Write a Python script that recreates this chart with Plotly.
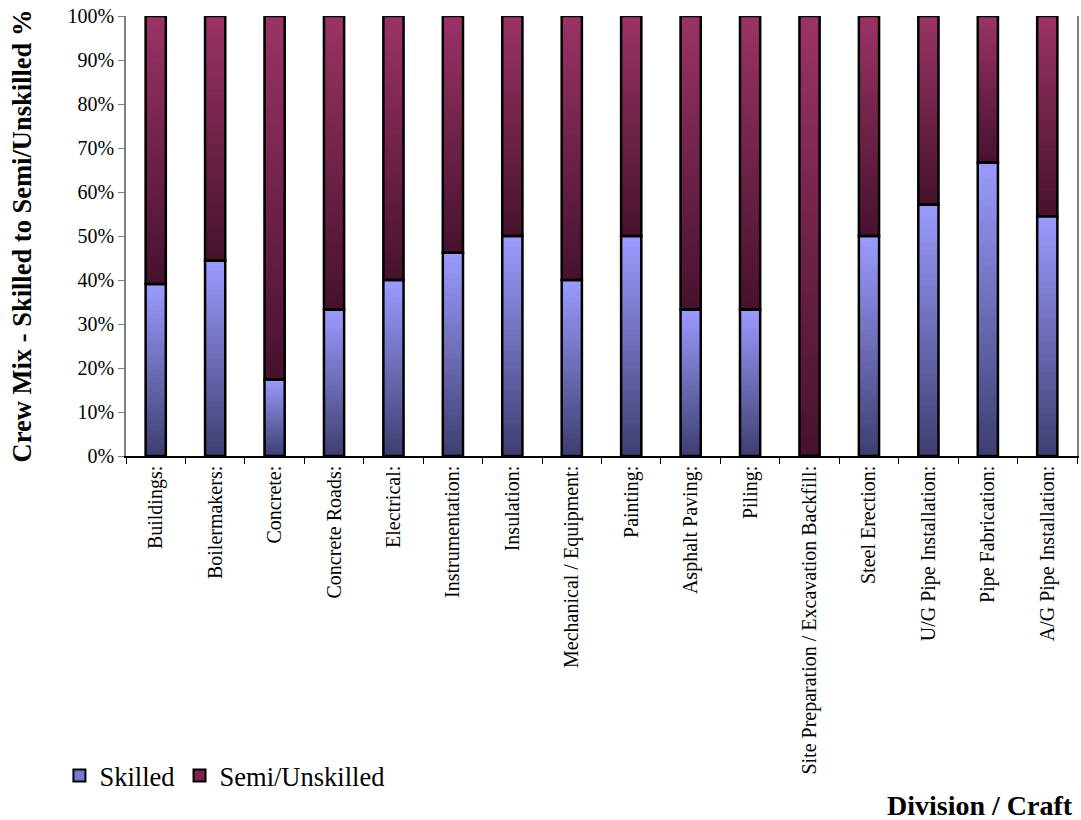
import plotly.graph_objects as go

categories = ["Buildings:", "Boilermakers:", "Concrete:", "Concrete Roads:", "Electrical:",
              "Instrumentation:", "Insulation:", "Mechanical / Equipment:", "Painting:",
              "Asphalt Paving:", "Piling:", "Site Preparation / Excavation Backfill:",
              "Steel Erection:", "U/G Pipe Installation:", "Pipe Fabrication:",
              "A/G Pipe Installation:"]
skilled = [39.1, 44.4, 17.4, 33.3, 40.0, 46.2, 50.0, 40.0, 50.0, 33.3, 33.3, 0.0,
           50.0, 57.1, 66.7, 54.5]
semi_unskilled = [100 - s for s in skilled]

y_ticks = [0, 10, 20, 30, 40, 50, 60, 70, 80, 90, 100]
y_tick_labels = [f"{t}%" for t in y_ticks]

FONT = "Liberation Serif, Times New Roman, serif"
N = 40
BW = 0.34


def lerp(c1, c2, t):
    return "rgb({},{},{})".format(*[round(a + (b - a) * t) for a, b in zip(c1, c2)])


SK_BOT, SK_TOP = (62, 62, 112), (155, 155, 255)
SE_BOT, SE_TOP = (70, 18, 44), (155, 51, 102)

fig = go.Figure()

# gradient slices (each segment split into N stacked pieces; each piece overlaps
# slightly into the next one, which is drawn on top, to avoid rendering seams)
for series, base_of, c_bot, c_top in [
    (skilled, [0.0] * len(skilled), SK_BOT, SK_TOP),
    (semi_unskilled, skilled, SE_BOT, SE_TOP),
]:
    for k in range(N):
        col = lerp(c_bot, c_top, (k + 0.5) / N)
        grow = 1.0 if k == N - 1 else 1.8
        fig.add_trace(go.Bar(
            x=categories,
            y=[v / N * grow for v in series],
            base=[b + v * k / N for v, b in zip(series, base_of)],
            width=BW,
            marker=dict(color=col, line=dict(width=0)),
            showlegend=False, hoverinfo="skip",
        ))

# outlines
fig.add_trace(go.Bar(x=categories, y=skilled, base=[0] * len(skilled), width=BW,
                     marker=dict(color="rgba(0,0,0,0)", line=dict(color="black", width=2.5)),
                     showlegend=False, hoverinfo="skip"))
fig.add_trace(go.Bar(x=categories, y=semi_unskilled, base=skilled, width=BW,
                     marker=dict(color="rgba(0,0,0,0)", line=dict(color="black", width=2.5)),
                     showlegend=False, hoverinfo="skip"))

# legend entries
fig.add_trace(go.Bar(x=[categories[0]], y=[None], name="Skilled",
                     marker=dict(color="rgb(120,120,210)", line=dict(color="black", width=2))))
fig.add_trace(go.Bar(x=[categories[0]], y=[None], name="Semi/Unskilled",
                     marker=dict(color="rgb(125,35,80)", line=dict(color="black", width=2))))

fig.update_layout(
    width=1081, height=820,
    margin=dict(l=126, r=2, t=16, b=364),
    barmode="overlay",
    paper_bgcolor="white", plot_bgcolor="white",
    font=dict(family=FONT, color="black", size=20),
    legend=dict(orientation="h", x=-0.07, y=-0.672, xanchor="left", yanchor="top",
                font=dict(family=FONT, size=26.5), itemwidth=30, tracegroupgap=0,
                bgcolor="rgba(0,0,0,0)"),
    xaxis=dict(
        type="category", categoryorder="array", categoryarray=categories,
        tickangle=-90, tickfont=dict(family=FONT, size=20),
        tickson="boundaries", ticks="outside", ticklen=6, tickcolor="black",
        showline=True, linecolor="black", linewidth=1.5, mirror=False,
        showgrid=False, range=[-0.5, len(categories) - 0.5],
    ),
    yaxis=dict(
        range=[0, 100], tickvals=y_ticks, ticktext=y_tick_labels,
        tickfont=dict(family=FONT, size=20),
        ticks="outside", ticklen=6, tickcolor="#808080",
        showline=True, linecolor="#808080", linewidth=1.5, mirror=True,
        showgrid=False, zeroline=False,
        title=dict(text="<b>Crew Mix - Skilled to Semi/Unskilled %</b>",
                   font=dict(family=FONT, size=26.5, color="black"), standoff=28),
    ),
    annotations=[dict(text="<b>Division / Craft</b>", xref="paper", yref="paper",
                      x=0.998, y=-0.795, xanchor="right", yanchor="middle", showarrow=False,
                      font=dict(family=FONT, size=28, color="black"))],
)

fig.write_html("out.html")
